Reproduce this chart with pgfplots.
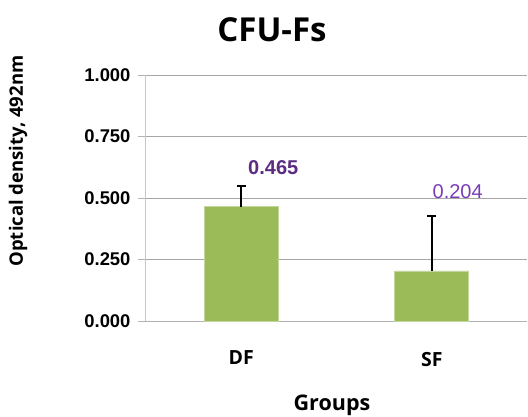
\documentclass[border=0pt]{standalone}
\usepackage{pgfplots}
\pgfplotsset{compat=1.18}
\usepackage{fontspec}
\setmainfont{Liberation Sans}
\newfontfamily\segoe{Open Sans}
\definecolor{bargreen}{HTML}{9BBB59}
\definecolor{lblA}{HTML}{5B2C82}
\definecolor{lblB}{HTML}{7A3DB8}
\definecolor{gridgray}{HTML}{A6A6A6}
\begin{document}
\begin{tikzpicture}
\begin{axis}[
    scale only axis,
    width=381pt, height=246pt,
    at={(0,0)}, anchor=south west,
    xmin=-0.5, xmax=1.5,
    ymin=0, ymax=1,
    ytick={0,0.25,0.5,0.75,1},
    yticklabel style={/pgf/number format/fixed,/pgf/number format/fixed zerofill,/pgf/number format/precision=3},
    /pgf/number format/assume math mode=true,
    ticklabel style={font=\fontsize{18.4}{22}\selectfont\bfseries},
    xtick=\empty,
    ymajorgrids=true,
    grid style={gridgray, line width=0.8pt},
    axis line style={draw=none},
    y axis line style={draw=gray!45, line width=1pt},
    axis x line*=bottom, axis y line*=left,
    x axis line style={draw=gray!60, line width=1pt},
    ytick style={draw=gray!60, line width=1pt},
    major tick length=8pt,
    tick align=outside,
    yticklabel shift=4pt,
    clip=false,
]
\addplot[ybar, bar width=74pt, fill=bargreen, draw=bargreen!60!white, line width=0.6pt,
    error bars/.cd, y dir=plus, y explicit,
    error bar style={black, line width=1.8pt},
    error mark options={black, line width=1.8pt, mark size=4.5pt, rotate=90}]
    coordinates {(0,0.465) +- (0,0.085) (1,0.204) +- (0,0.224)};
\node[font=\fontsize{20}{24}\selectfont\bfseries, text=lblA] at (axis cs:0.168,0.622) {0.465};
\node[font=\fontsize{20}{24}\selectfont, text=lblB] at (axis cs:1.136,0.524) {0.204};
\node[font=\segoe\fontsize{19.5}{23}\selectfont\bfseries] at (axis cs:0,-0.15) {DF};
\node[font=\segoe\fontsize{19.5}{23}\selectfont\bfseries] at (axis cs:1,-0.158) {SF};
\end{axis}
\node[font=\segoe\fontsize{21.5}{25}\selectfont\bfseries] at (186pt,-84pt) {Groups};
\node[font=\segoe\fontsize{33}{38}\selectfont\bfseries] at (126pt,291pt) {CFU-Fs};
\node[font=\segoe\fontsize{18.5}{22}\selectfont\bfseries, rotate=90] at (-128pt,160pt) {Optical density, 492nm};
\pgfresetboundingbox
\path[use as bounding box] (-146pt,-95pt) rectangle (382pt,321pt);
\end{tikzpicture}
\end{document}
